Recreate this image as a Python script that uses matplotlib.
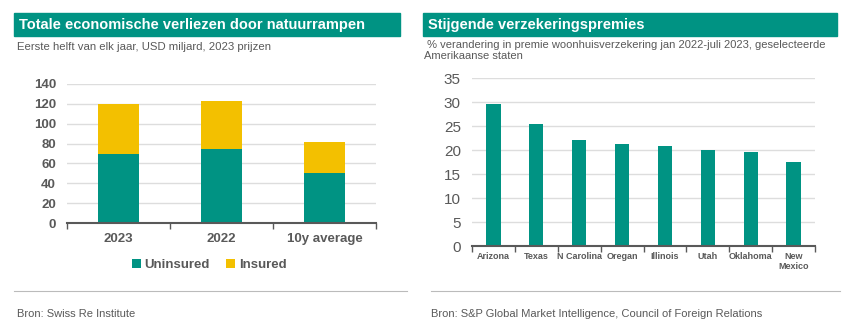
import matplotlib
matplotlib.use("Agg")
import matplotlib.pyplot as plt
from matplotlib.patches import Rectangle
from matplotlib.lines import Line2D

plt.rcParams['font.family'] = ['Liberation Sans', 'DejaVu Sans']

# Data
left_categories = ["2023", "2022", "10y average"]
uninsured = [70, 75, 50]
insured = [50, 48, 32]

right_categories = ["Arizona", "Texas", "N Carolina", "Oregan", "Illinois",
                    "Utah", "Oklahoma", "New\nMexico"]
premium_change = [29.6, 25.5, 22.1, 21.2, 20.8, 20.0, 19.5, 17.5]

TEAL = "#009383"
YELLOW = "#F3C000"
GRID = "#DDDDDD"
AXIS = "#595959"
TXT = "#595959"

W, H = 847, 325
fig = plt.figure(figsize=(W / 100, H / 100), dpi=100)


def fx(px):
    return px / W


def fy(py):
    return 1 - py / H


# Title bars
for x0, x1, title in [(14, 400, "Totale economische verliezen door natuurrampen"),
                      (423, 837, "Stijgende verzekeringspremies")]:
    fig.patches.append(Rectangle((fx(x0), fy(36)), fx(x1 - x0), (36 - 13) / H,
                                 transform=fig.transFigure, color=TEAL, zorder=0))
    fig.text(fx(x0 + 5), fy(24.5), title, color="white", fontsize=10.5,
             fontweight="bold", va="center", ha="left")

# Subtitles
fig.text(fx(17), fy(47), "Eerste helft van elk jaar, USD miljard, 2023 prijzen",
         color=TXT, fontsize=8.2, va="center")
fig.text(fx(424), fy(50.5),
         " % verandering in premie woonhuisverzekering jan 2022-juli 2023, geselecteerde\nAmerikaanse staten",
         color=TXT, fontsize=8.0, va="center", linespacing=1.2)

# Bottom rules and sources
fig.add_artist(Line2D([fx(14), fx(407)], [fy(291), fy(291)], color="#BBBBBB", lw=0.8))
fig.add_artist(Line2D([fx(431), fx(840)], [fy(291), fy(291)], color="#BBBBBB", lw=0.8))
fig.text(fx(17), fy(314), "Bron: Swiss Re Institute", color=TXT, fontsize=8, va="center")
fig.text(fx(431), fy(314), "Bron: S&P Global Market Intelligence, Council of Foreign Relations",
         color=TXT, fontsize=8, va="center")


def style_axes(ax, ncat):
    for s in ["top", "right", "left"]:
        ax.spines[s].set_visible(False)
    ax.spines["bottom"].set_color(AXIS)
    ax.spines["bottom"].set_linewidth(1.5)
    ax.set_axisbelow(True)
    ax.yaxis.grid(True, color=GRID, lw=1)
    ax.tick_params(axis="y", length=0, colors=TXT)
    ax.tick_params(axis="x", which="major", length=0, colors=TXT)
    ax.set_xticks([i - 0.5 for i in range(ncat + 1)], minor=True)
    ax.tick_params(axis="x", which="minor", length=4, width=1, color=AXIS, direction="out")
    ax.set_xlim(-0.5, ncat - 0.5)


# Left chart
axL = fig.add_axes([fx(67), fy(223), fx(376 - 67), (223 - 84) / H])
xl = range(len(left_categories))
axL.bar(xl, uninsured, width=0.4, color=TEAL, label="Uninsured")
axL.bar(xl, insured, width=0.4, bottom=uninsured, color=YELLOW, label="Insured")
axL.set_ylim(0, 140)
axL.set_yticks(range(0, 141, 20))
style_axes(axL, len(left_categories))
axL.set_xticks(list(xl))
axL.set_xticklabels(left_categories, fontsize=9.5, fontweight="bold", color=TXT)
for lab in axL.get_yticklabels():
    lab.set_fontsize(9.5)
    lab.set_fontweight("bold")
axL.tick_params(axis="x", pad=7)
axL.tick_params(axis="y", pad=8)
leg = axL.legend(loc="upper center", bbox_to_anchor=(0.46, -0.17), ncol=2, frameon=False,
                 handlelength=0.7, handleheight=0.7, handletextpad=0.3, columnspacing=1.2,
                 prop={"size": 9.5, "weight": "bold"})
for t in leg.get_texts():
    t.set_color(TXT)

# Right chart
axR = fig.add_axes([fx(472), fy(246), fx(815 - 472), (246 - 78) / H])
xr = range(len(right_categories))
axR.bar(xr, premium_change, width=0.33, color=TEAL)
axR.set_ylim(0, 35)
axR.set_yticks(range(0, 36, 5))
style_axes(axR, len(right_categories))
axR.set_xticks(list(xr))
axR.set_xticklabels(right_categories, fontsize=6.5, fontweight="bold", color=TXT,
                    linespacing=1.2, va="top")
for lab in axR.get_yticklabels():
    lab.set_fontsize(11)
axR.tick_params(axis="x", pad=4)
axR.tick_params(axis="y", pad=8)

fig.savefig("out.png", dpi=100)
